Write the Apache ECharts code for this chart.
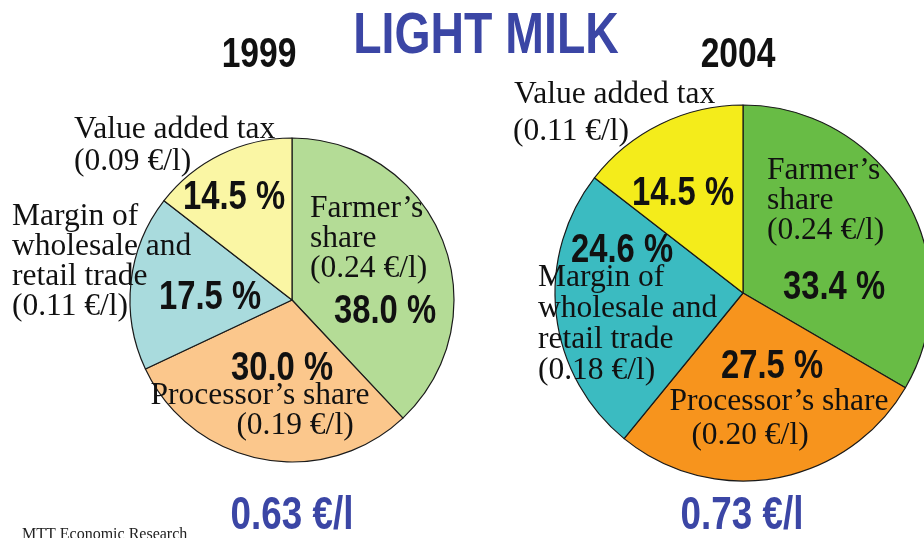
<!DOCTYPE html>
<html>
<head>
<meta charset="utf-8">
<script src="https://cdn.jsdelivr.net/npm/echarts@6/dist/echarts.min.js"></script>
<style>
  html, body { margin: 0; padding: 0; background: #fff; }
  #main { width: 924px; height: 538px; }
</style>
</head>
<body>
<div id="main"></div>
<script>
// data
const categories = ["Farmer's share", "Processor's share", "Margin of wholesale and retail trade", "Value added tax"];
const share1999 = [38.0, 30.0, 17.5, 14.5];
const share2004 = [33.4, 27.5, 24.6, 14.5];
const price1999 = ['0.24', '0.19', '0.11', '0.09'];
const price2004 = ['0.24', '0.20', '0.18', '0.11'];
const years = ['1999', '2004'];
const totals = ['0.63 €/l', '0.73 €/l'];

const colors1999 = ['#b4dc96', '#fbc78c', '#a9dbdd', '#faf6a4'];
const colors2004 = ['#68bc45', '#f7941d', '#3bbbc1', '#f4ec1b'];

// no narrow font installed, so squeeze Liberation Sans Bold instead
const sans = "'Liberation Sans', Arial, sans-serif";
const serif = "'Liberation Serif', 'DejaVu Serif', serif";
const squeeze = 0.8;

// where the percent labels sit (centre of text)
const pctPos = [
  [[385, 312], [282, 369], [210, 298], [234, 198]],
  [[834, 288], [772, 367], [622, 251], [683, 194]]
];

var myChart = echarts.init(document.getElementById('main'));

function pieData(vals, cols) {
  return vals.map((v, i) => ({ name: categories[i], value: v, itemStyle: { color: cols[i] } }));
}

function pieSeries(vals, cols, center, radius) {
  return {
    type: 'pie',
    center: center,
    radius: radius,
    startAngle: 90,
    clockwise: true,
    animation: false,
    silent: true,
    data: pieData(vals, cols),
    itemStyle: { borderColor: '#1a1a1a', borderWidth: 1.2 },
    label: { show: false },
    labelLine: { show: false }
  };
}

function txt(text, x, y, lh, align) {
  return {
    type: 'text', x: x, y: y, silent: true, z: 100,
    style: {
      text: text, fill: '#111', font: '31.5px ' + serif,
      lineHeight: lh || 30, align: align || 'left', verticalAlign: 'top'
    }
  };
}

function bigText(text, x, y, size, color) {
  return {
    type: 'text', x: x, y: y, scaleX: squeeze, silent: true, z: 110,
    style: {
      text: text, fill: color, font: 'bold ' + size + 'px ' + sans,
      align: 'center', verticalAlign: 'middle'
    }
  };
}

const nameLabels = [
  txt('Value added tax\n(' + price1999[3] + ' €/l)', 74, 114, 32),
  txt("Farmer’s\nshare\n(" + price1999[0] + ' €/l)', 310, 194),
  txt('Margin of\nwholesale and\nretail trade\n(' + price1999[2] + ' €/l)', 12, 202),
  txt("Processor’s share", 260, 381, 30, 'center'),
  txt('(' + price1999[1] + ' €/l)', 295, 411, 30, 'center'),

  txt('Value added tax', 514, 80),
  txt('(' + price2004[3] + ' €/l)', 513, 117),
  txt("Farmer’s\nshare\n(" + price2004[0] + ' €/l)', 767, 156),
  txt('Margin of\nwholesale and\nretail trade\n(' + price2004[2] + ' €/l)', 538, 262, 31),
  txt("Processor’s share", 779, 387, 30, 'center'),
  txt('(' + price2004[1] + ' €/l)', 750, 421, 30, 'center')
];

// percent labels from the share arrays
const pctLabels = [];
[share1999, share2004].forEach((vals, s) => {
  vals.forEach((v, i) => {
    pctLabels.push(bigText(v.toFixed(1) + ' %', pctPos[s][i][0], pctPos[s][i][1], 41, '#111'));
  });
});

var option = {
  backgroundColor: '#ffffff',
  animation: false,
  graphic: [
    bigText('LIGHT MILK', 486, 37, 58, '#3b46a5'),
    bigText(years[0], 259, 55, 42, '#111'),
    bigText(years[1], 738, 55, 42, '#111'),
    bigText(totals[0], 292, 516, 46, '#3b46a5'),
    bigText(totals[1], 742, 516, 46, '#3b46a5'),
    {
      type: 'text', x: 22, y: 527, silent: true,
      style: { text: 'MTT Economic Research', fill: '#222', font: '16px ' + serif }
    }
  ].concat(nameLabels, pctLabels),
  series: [
    pieSeries(share1999, colors1999, [292, 300], 162),
    pieSeries(share2004, colors2004, [743, 293], 188)
  ]
};
myChart.setOption(option);
</script>
</body>
</html>
